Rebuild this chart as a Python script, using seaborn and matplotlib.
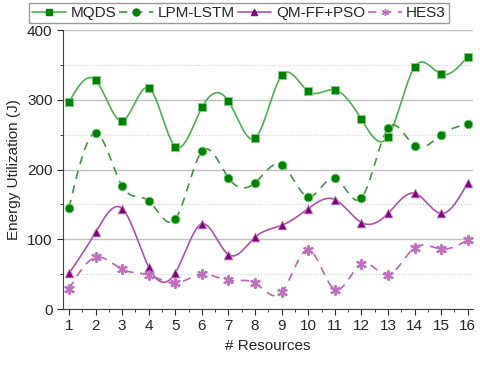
import numpy as np
import pandas as pd
import matplotlib
matplotlib.use("Agg")
import matplotlib.pyplot as plt
import seaborn as sns
from matplotlib.lines import Line2D
from matplotlib.ticker import MultipleLocator

resources = list(range(1, 17))
mqds = [297, 328, 270, 317, 233, 289, 298, 245, 335, 312, 314, 272, 247, 347, 337, 362]
lpm_lstm = [145, 252, 176, 155, 129, 226, 188, 181, 207, 161, 188, 159, 259, 234, 250, 265]
qm_ff_pso = [51, 110, 144, 60, 52, 122, 78, 103, 120, 144, 157, 124, 137, 166, 137, 181]
hes3 = [29, 74, 57, 49, 37, 50, 41, 37, 24, 85, 28, 65, 49, 88, 86, 99]

names = ["MQDS", "LPM-LSTM", "QM-FF+PSO", "HES3"]
series = [mqds, lpm_lstm, qm_ff_pso, hes3]
line_cols = ["#4fb04f", "#3a9a3a", "#b04fb0", "#c060c0"]
mark_cols = ["#008000", "#008000", "#800080", "#c070c0"]
markers = ["s", "o", "^", (6, 2, 0)]
dashes = [None, (5, 4), None, (5, 4)]


def spline(x, y, n=400):
    # natural cubic spline through the points, for the smoothed connection
    x = np.asarray(x, float)
    y = np.asarray(y, float)
    k = len(x)
    h = np.diff(x)
    A = np.zeros((k, k))
    b = np.zeros(k)
    A[0, 0] = A[-1, -1] = 1
    for i in range(1, k - 1):
        A[i, i - 1] = h[i - 1]
        A[i, i] = 2 * (h[i - 1] + h[i])
        A[i, i + 1] = h[i]
        b[i] = 3 * ((y[i + 1] - y[i]) / h[i] - (y[i] - y[i - 1]) / h[i - 1])
    c = np.linalg.solve(A, b)
    xs = np.linspace(x[0], x[-1], n)
    idx = np.clip(np.searchsorted(x, xs) - 1, 0, k - 2)
    dx = xs - x[idx]
    hi = h[idx]
    bb = (y[idx + 1] - y[idx]) / hi - hi * (2 * c[idx] + c[idx + 1]) / 3
    d = (c[idx + 1] - c[idx]) / (3 * hi)
    ys = y[idx] + bb * dx + c[idx] * dx ** 2 + d * dx ** 3
    return xs, ys


sns.set_style("ticks")
plt.rcParams["font.family"] = ["Liberation Sans", "DejaVu Sans"]

fig = plt.figure(figsize=(4.8, 3.71), dpi=100)
ax = fig.add_axes([0.131, 0.167, 0.854, 0.752])

ax.yaxis.set_major_locator(MultipleLocator(100))
ax.yaxis.set_minor_locator(MultipleLocator(50))
ax.xaxis.set_major_locator(MultipleLocator(1))
ax.xaxis.set_minor_locator(MultipleLocator(0.5))
ax.grid(axis="y", which="major", color="#c0c0c0", lw=1)
ax.grid(axis="y", which="minor", color="#d0d0d0", lw=0.8, ls=":")
ax.set_axisbelow(True)

handles = []
for name, vals, lc, mc, mk, ds in zip(names, series, line_cols, mark_cols, markers, dashes):
    xs, ys = spline(resources, vals)
    smooth = pd.DataFrame({"x": xs, "y": ys})
    pts = pd.DataFrame({"x": resources, "y": vals})
    ls = "-" if ds is None else (0, ds)
    sns.lineplot(data=smooth, x="x", y="y", ax=ax, color=lc, lw=1.2, linestyle=ls)
    if mk == (6, 2, 0):
        sns.scatterplot(data=pts, x="x", y="y", ax=ax, marker=mk, s=45,
                        color=mc, linewidth=1.4, edgecolor=mc, zorder=3)
        sns.scatterplot(data=pts, x="x", y="y", ax=ax, marker="x", s=25,
                        color=mc, linewidth=1.0, zorder=3)
    else:
        sns.scatterplot(data=pts, x="x", y="y", ax=ax, marker=mk, s=40,
                        color=mc, edgecolor="#7fcf7f" if mc == "#008000" else "#c090c0",
                        linewidth=0.6, zorder=3)
    handles.append(Line2D([], [], color=lc, lw=1.2, linestyle=ls, marker=mk,
                          markersize=5, markerfacecolor=mc, markeredgecolor=mc))

ax.set_xlim(0.77, 16.19)
ax.set_ylim(0, 400)
ax.set_xticks(resources)
ax.set_xlabel("# Resources", fontsize=11)
ax.set_ylabel("Energy Utilization (J)", fontsize=11)
ax.tick_params(axis="both", which="major", labelsize=11, length=4, direction="out")
ax.tick_params(axis="both", which="minor", length=2.5, direction="out")
sns.despine(ax=ax)
for sp in ["left", "bottom"]:
    ax.spines[sp].set_color("#404040")

fig.legend(handles, names, loc="upper center", bbox_to_anchor=(0.498, 1.0), ncol=4,
           fontsize=11, frameon=True, fancybox=False, edgecolor="#808080",
           handlelength=2.2, handletextpad=0.3, columnspacing=0.2,
           borderpad=0.2, borderaxespad=0.2)

fig.savefig("out.png", dpi=100)
